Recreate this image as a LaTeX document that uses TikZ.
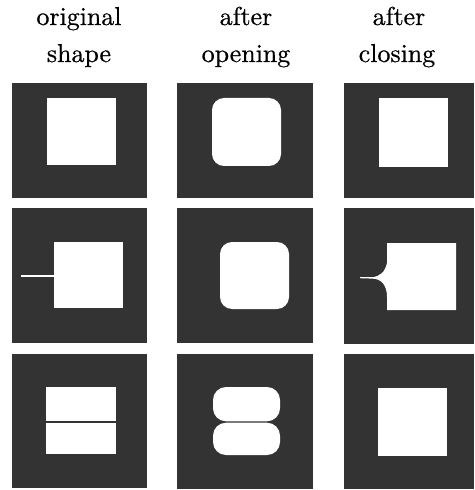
\documentclass[tikz,border=0pt]{standalone}
\usepackage{fontspec}
\newfontfamily\lblfont{lmroman10-regular}[Extension=.otf, BoldFont=lmroman10-regular, BoldFeatures={FakeBold=0.6}]
\begin{document}
\begin{tikzpicture}[x=1bp,y=-1bp]
\tikzset{
  dark/.style={fill=black!80},
  hole/.style={fill=white},
  lbl/.style={font=\lblfont\bfseries\fontsize{26}{30}\selectfont, anchor=base, inner sep=0pt},
  slitw/.style={draw=white, line width=1.3bp},
  slitd/.style={draw=black!80, line width=1.3bp}
}
\useasboundingbox (0,0) rectangle (475,490);
% labels
\node[lbl] (t1a) at (79,25) {original};
\node[lbl] (t1b) at (79,62) {shape};
\node[lbl] (t2a) at (246,25) {after};
\node[lbl] (t2b) at (246,62) {opening};
\node[lbl] (t3a) at (399,25) {after};
\node[lbl] (t3b) at (397,62) {closing};
% column 1: original shapes
\fill[dark] (12,83) rectangle (147,198);
\fill[hole] (47,98) rectangle (116,165);
\fill[dark] (12,208) rectangle (147,343);
\fill[hole] (54,242) rectangle (123,308);
\draw[slitw] (21,276) -- (54,276);
\fill[dark] (12,354) rectangle (147,488);
\fill[hole] (46,387) rectangle (116,454);
\draw[slitd] (46,422) -- (116,422);
% column 2: after opening
\fill[dark] (177,83) rectangle (313,198);
\fill[hole, rounded corners=12bp] (212,98) rectangle (281,166);
\fill[dark] (177,208) rectangle (313,343);
\fill[hole, rounded corners=12bp] (220,242) rectangle (289,309);
\fill[dark] (177,354) rectangle (313,489);
\fill[hole, rounded corners=13bp] (213,387) rectangle (280,421.3);
\fill[hole, rounded corners=13bp] (213,422.7) rectangle (280,455);
% column 3: after closing
\fill[dark] (344,83) rectangle (474,198);
\fill[hole] (379,98) rectangle (448,167);
\fill[dark] (344,208) rectangle (474,344);
\fill[hole] (387,243) -- (456,243) -- (456,310) -- (387,310) -- (387,297)
  .. controls (387,286) and (382,278.6) .. (372,278.6) -- (360,278.2) -- (360,277.2)
  -- (372,277.2) .. controls (380,276.5) and (385,272) .. (387,263) -- cycle;
\fill[dark] (344,354) rectangle (474,489);
\fill[hole] (378,388) rectangle (447,456);
\end{tikzpicture}
\end{document}
